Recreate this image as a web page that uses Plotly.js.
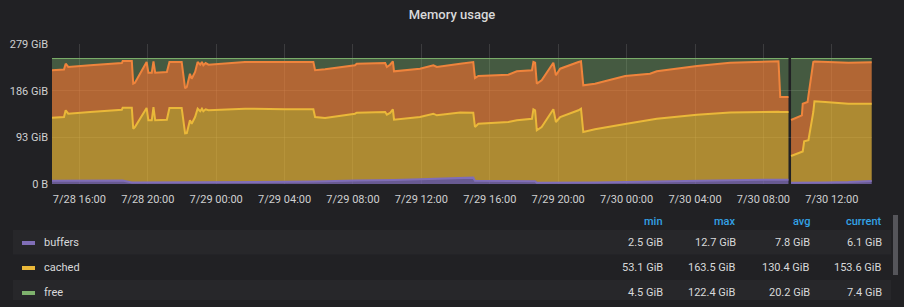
<!DOCTYPE html>
<html><head><meta charset="utf-8">
<script src="https://cdn.plot.ly/plotly-3.0.1.min.js"></script>
<style>html,body{margin:0;padding:0;background:#212124;overflow:hidden}#chart{width:904px;height:307px}</style>
</head><body><div id="chart"></div>
<script>
// ---- segment 1 (before the data gap) ----
const times1 = ['2020-07-28 14:24','2020-07-28 15:06','2020-07-28 15:12','2020-07-28 15:21','2020-07-28 16:38','2020-07-28 17:59','2020-07-28 18:29','2020-07-28 18:32','2020-07-28 19:04','2020-07-28 19:09','2020-07-28 19:15','2020-07-28 19:56','2020-07-28 20:02','2020-07-28 20:14','2020-07-28 20:20','2020-07-28 20:26','2020-07-28 21:07','2020-07-28 21:16','2020-07-28 21:59','2020-07-28 22:11','2020-07-28 22:17','2020-07-28 22:28','2020-07-28 22:34','2020-07-28 22:46','2020-07-28 22:55','2020-07-28 23:04','2020-07-28 23:10','2020-07-28 23:15','2020-07-28 23:23','2020-07-28 23:33','2020-07-29 01:41','2020-07-29 04:02','2020-07-29 05:41','2020-07-29 05:47','2020-07-29 06:22','2020-07-29 08:07','2020-07-29 08:13','2020-07-29 09:53','2020-07-29 09:59','2020-07-29 10:10','2020-07-29 10:20','2020-07-29 10:24','2020-07-29 11:55','2020-07-29 12:42','2020-07-29 12:54','2020-07-29 14:16','2020-07-29 15:02','2020-07-29 15:08','2020-07-29 15:20','2020-07-29 17:05','2020-07-29 17:35','2020-07-29 18:28','2020-07-29 18:33','2020-07-29 18:39','2020-07-29 18:45','2020-07-29 19:02','2020-07-29 19:43','2020-07-29 19:52','2020-07-29 20:07','2020-07-29 21:11','2020-07-29 21:20','2020-07-29 21:28','2020-07-29 22:09','2020-07-29 23:55','2020-07-30 01:22','2020-07-30 01:46','2020-07-30 04:07','2020-07-30 06:03','2020-07-30 08:53','2020-07-30 08:59','2020-07-30 09:28'];
const buffers1 = [6.5,6.5,6.5,6.5,6.6,6.8,7.0,7.0,3.0,3.0,3.0,3.0,3.0,3.0,3.0,3.0,3.0,3.0,3.0,3.0,3.0,3.0,3.0,3.0,3.0,3.0,3.0,3.0,3.0,3.0,3.5,4.5,5.0,5.0,5.5,7.0,7.0,8.0,8.0,8.0,8.2,8.2,9.5,10.5,10.5,12.0,12.7,6.5,6.5,6.0,6.0,5.5,5.5,5.5,2.5,2.5,2.5,2.5,2.5,2.8,2.8,2.8,3.0,4.0,5.0,5.2,6.5,7.5,8.6,8.6,8.6];
const cached1 = [125.6,127.0,140.4,133.6,136.9,140.1,141.1,145.1,149.1,107.2,110.6,148.5,123.9,123.9,150.4,123.9,125.1,148.5,148.5,98.0,98.6,123.9,117.2,130.5,147.1,141.9,147.1,141.9,145.9,143.9,146.6,144.4,143.9,128.5,126.0,133.1,135.1,135.5,130.1,133.5,140.7,119.9,124.0,129.6,126.4,130.5,129.4,107.1,113.7,117.6,120.9,124.6,143.4,141.4,104.5,111.1,146.4,121.1,131.0,144.1,147.3,100.8,106.0,115.6,121.9,124.9,131.6,135.0,135.3,134.9,134.9];
const used1 = [94.5,94.7,92.8,93.1,93.1,92.8,93.0,93.0,93.0,89.7,88.3,91.6,94.9,94.9,91.1,94.9,95.1,91.6,91.6,89.7,91.7,92.9,89.6,89.7,93.0,92.8,93.0,91.7,92.2,90.8,93.0,94.2,94.2,93.1,97.1,96.5,97.6,97.6,95.1,96.2,95.6,96.5,96.3,96.5,96.3,97.2,101.0,97.6,95.0,94.2,97.7,96.5,94.2,94.8,92.9,93.1,92.8,93.0,96.3,96.2,94.4,93.1,90.9,95.6,92.9,94.5,97.1,99.2,100.6,29.9,29.9];
const free1 = [23.4,21.8,10.3,16.8,13.4,10.3,8.9,4.9,4.9,50.1,48.1,6.9,28.2,28.2,5.5,28.2,26.8,6.9,6.9,59.3,56.7,30.2,40.2,26.8,6.9,12.3,6.9,13.4,8.9,12.3,6.9,6.9,6.9,23.4,21.4,13.4,10.3,8.9,16.8,12.3,5.5,25.4,20.2,13.4,16.8,10.3,6.9,38.8,34.8,32.2,25.4,23.4,6.9,8.3,50.1,43.3,8.3,33.4,20.2,6.9,5.5,53.3,50.1,34.8,30.2,25.4,14.8,8.3,5.5,76.6,76.6];

// ---- segment 2 (after the data gap) ----
const times2 = ['2020-07-30 09:37','2020-07-30 10:15','2020-07-30 10:18','2020-07-30 10:23','2020-07-30 10:35','2020-07-30 10:38','2020-07-30 10:55','2020-07-30 10:59','2020-07-30 11:37','2020-07-30 12:58','2020-07-30 14:20'];
const buffers2 = [2.5,2.5,2.5,2.5,2.5,2.5,2.5,2.5,3.0,4.0,6.1];
const cached2 = [53.3,61.3,62.3,82.6,84.6,85.0,141.0,162.3,160.4,156.0,153.6];
const used2 = [71.7,73.1,95.2,76.3,76.3,88.5,99.6,79.3,79.7,81.7,82.9];
const free2 = [122.5,113.1,90.0,88.6,86.6,74.0,6.9,5.9,6.9,8.3,7.4];

// ---- axes / legend table text ----
const xRange = ['2020-07-28 14:24','2020-07-30 14:21'];
const yTickVals = [0,93,186,279];
const yTickText = ['0 B','93 GiB','186 GiB','279 GiB'];
const legendNames = ['buffers','cached','free'];
const statHeaders = ['min','max','avg','current'];
const statMin = ['2.5 GiB','53.1 GiB','4.5 GiB'];
const statMax = ['12.7 GiB','163.5 GiB','122.4 GiB'];
const statAvg = ['7.8 GiB','130.4 GiB','20.2 GiB'];
const statCurrent = ['6.1 GiB','153.6 GiB','7.4 GiB'];

const COL = {buffers:'#806eb7', cached:'#eab839', used:'#ef843c', free:'#7eb26d'};
const FILL = {buffers:'rgba(128,110,183,0.75)', cached:'rgba(234,184,57,0.7)', used:'rgba(239,132,60,0.7)', free:'rgba(126,178,109,0.4)'};
const FONT = 'Roboto, "Open Sans", sans-serif';

function seg(t, b, c, u, f, g){
  const mk = (name, y) => ({x:t, y:y, name:name, type:'scatter', mode:'lines', stackgroup:g,
    line:{color:COL[name], width: name==='free'?1:2}, fillcolor:FILL[name], hoverinfo:'skip', showlegend:false});
  return [mk('buffers',b), mk('cached',c), mk('used',u), mk('free',f)];
}
const data = seg(times1,buffers1,cached1,used1,free1,'s1').concat(seg(times2,buffers2,cached2,used2,free2,'s2'));

// pixel -> paper helpers for the legend table
const L=52, R=872, T=44, B=184;
const px = x => (x-L)/(R-L);
const py = y => (B-y)/(B-T);

const annotations = [];
const shapes = [];
const statCols = [statMin, statMax, statAvg, statCurrent];
const colX = [665, 738, 812, 884];
const rowY = [242, 267, 292];
const swatch = [COL.buffers, COL.cached, COL.free];
statHeaders.forEach((h,i)=>annotations.push({xref:'paper',yref:'paper',x:px(colX[i]),y:py(221),xanchor:'right',yanchor:'middle',showarrow:false,text:h,font:{family:FONT,size:11,color:'#33a2e5',weight:500}}));
legendNames.forEach((n,r)=>{
  if(r%2===0) shapes.push({type:'rect',xref:'paper',yref:'paper',x0:px(13),x1:px(891),y0:py(230+r*25),y1:py(Math.min(254.5+r*25,300)),fillcolor:'#27272a',line:{width:0},layer:'below'});
  shapes.push({type:'rect',xref:'paper',yref:'paper',x0:px(22),x1:px(35),y0:py(rowY[r]-1),y1:py(rowY[r]+3),fillcolor:swatch[r],line:{width:0}});
  annotations.push({xref:'paper',yref:'paper',x:px(42),y:py(rowY[r]),xanchor:'left',yanchor:'middle',showarrow:false,text:n,font:{family:FONT,size:11,color:'#d8d9da'}});
  statCols.forEach((col,i)=>annotations.push({xref:'paper',yref:'paper',x:px(colX[i]),y:py(rowY[r]),xanchor:'right',yanchor:'middle',showarrow:false,text:col[r],font:{family:FONT,size:11,color:'#d8d9da'}}));
});
shapes.push({type:'rect',xref:'paper',yref:'paper',x0:px(893),x1:px(898),y0:py(215),y1:py(275),fillcolor:'#55555a',line:{width:0}});

const layout = {
  width:904, height:307,
  margin:{l:L, r:904-R, t:T, b:307-B, pad:0},
  paper_bgcolor:'#212124', plot_bgcolor:'#212124',
  title:{text:'Memory usage', x:0.5, xref:'container', y:1-14/307, yref:'container', yanchor:'middle', xanchor:'center', font:{family:FONT, size:13, color:'#d8d9da', weight:500}},
  xaxis:{type:'date', range:xRange, tick0:'2020-07-28 00:00', dtick:4*3600*1000, tickformat:'%-m/%d %H:%M',
    showgrid:true, gridcolor:'rgba(255,255,255,0.12)', gridwidth:1, zeroline:false, showline:false, ticks:'',
    ticklabelstandoff:7, tickfont:{family:FONT, size:11, color:'#cfd0d1'}, fixedrange:true},
  yaxis:{range:[0,279], tickvals:yTickVals, ticktext:yTickText, showgrid:true, gridcolor:'rgba(255,255,255,0.12)', gridwidth:1,
    zeroline:false, showline:false, ticks:'', ticklabelstandoff:3, tickfont:{family:FONT, size:11, color:'#cfd0d1'}, fixedrange:true},
  showlegend:false,
  annotations:annotations, shapes:shapes
};
Plotly.newPlot('chart', data, layout, {displayModeBar:false, staticPlot:true});
</script></body></html>
